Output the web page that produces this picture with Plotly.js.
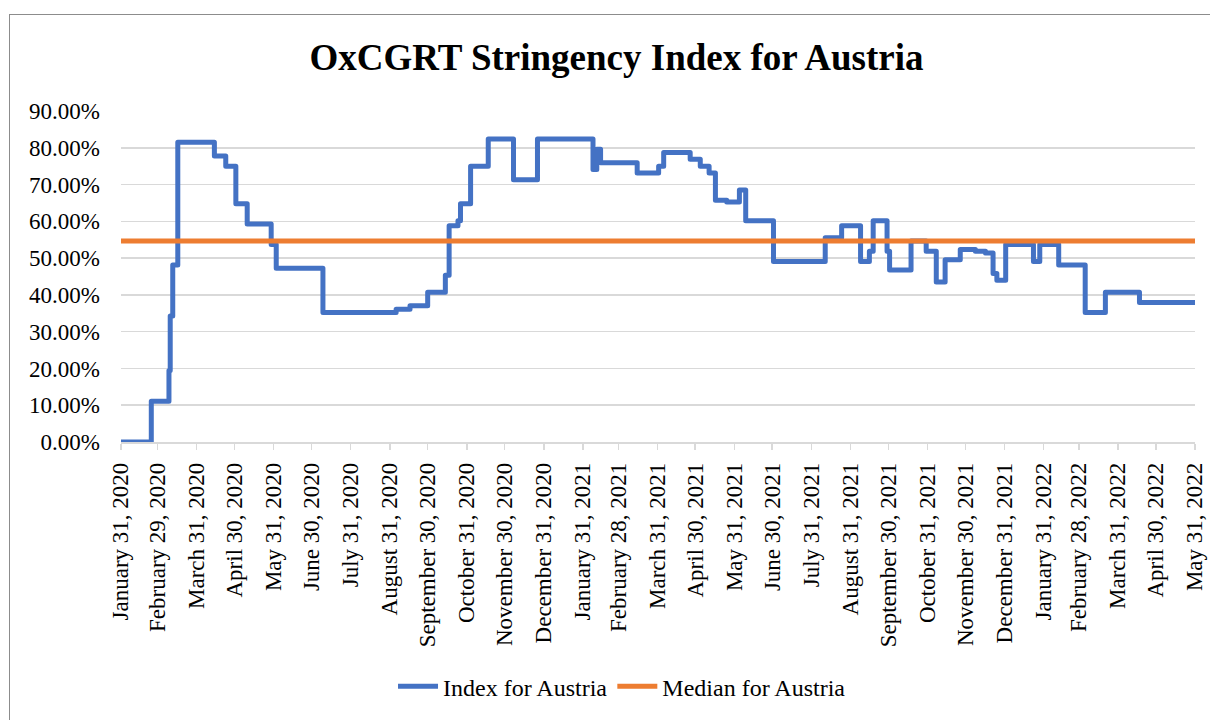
<!DOCTYPE html>
<html>
<head>
<meta charset="utf-8">
<script src="https://cdn.plot.ly/plotly-3.0.1.min.js"></script>
<style>
  html, body { margin: 0; padding: 0; background: #fff; width: 1210px; height: 720px; overflow: hidden; }
  #frame { position: absolute; left: 9px; top: 14px; width: 1210px; height: 720px; border-left: 1px solid #8c8c8c; border-top: 1px solid #8c8c8c; box-sizing: border-box; }
  #chart { position: absolute; left: 0; top: 0; width: 1201px; height: 706px; }
  .scatterlayer path.js-line { stroke-linejoin: round; stroke-linecap: round; }
</style>
</head>
<body>
<div id="frame"><div id="chart"></div></div>
<script>
const changeDates = [
  '2020-01-31','2020-02-24','2020-03-09','2020-03-10','2020-03-12','2020-03-16',
  '2020-04-14','2020-04-23','2020-05-01','2020-05-10','2020-05-29','2020-06-02',
  '2020-07-09','2020-09-05','2020-09-16','2020-09-30','2020-10-14','2020-10-17',
  '2020-10-24','2020-10-26','2020-11-03','2020-11-17','2020-12-07','2020-12-26',
  '2021-02-08','2021-02-11','2021-02-14','2021-03-15','2021-04-01','2021-04-05',
  '2021-04-26','2021-05-04','2021-05-11','2021-05-16','2021-05-25','2021-06-04',
  '2021-06-09','2021-07-01','2021-08-11','2021-08-24','2021-09-08','2021-09-15',
  '2021-09-18','2021-09-29','2021-10-01','2021-10-18','2021-10-30','2021-11-07',
  '2021-11-14','2021-11-26','2021-12-08','2021-12-16','2021-12-22','2021-12-25',
  '2022-01-01','2022-01-23','2022-01-28','2022-02-12','2022-03-05','2022-03-21',
  '2022-04-17','2022-05-31'
];
const indexValues = [
  0.0000,0.1111,0.1944,0.3426,0.4815,0.8148,
  0.7778,0.7500,0.6481,0.5926,0.5370,0.4722,
  0.3519,0.3611,0.3704,0.4074,0.4537,0.5880,
  0.6019,0.6481,0.7500,0.8241,0.7130,0.8241,
  0.7407,0.7963,0.7593,0.7315,0.7500,0.7870,
  0.7685,0.7500,0.7315,0.6574,0.6528,0.6852,
  0.6019,0.4907,0.5556,0.5880,0.4907,0.5185,
  0.6019,0.5185,0.4676,0.5463,0.5185,0.4352,
  0.4954,0.5231,0.5185,0.5139,0.4583,0.4398,
  0.5370,0.4907,0.5370,0.4815,0.3519,0.4074,
  0.3796,0.3796
];
const medianDates = ['2020-01-31','2022-05-31'];
const medianValues = [0.5463, 0.5463];

const tickDates = [
  '2020-01-31','2020-02-29','2020-03-31','2020-04-30','2020-05-31','2020-06-30',
  '2020-07-31','2020-08-31','2020-09-30','2020-10-31','2020-11-30','2020-12-31',
  '2021-01-31','2021-02-28','2021-03-31','2021-04-30','2021-05-31','2021-06-30',
  '2021-07-31','2021-08-31','2021-09-30','2021-10-31','2021-11-30','2021-12-31',
  '2022-01-31','2022-02-28','2022-03-31','2022-04-30','2022-05-31'
];
const tickLabels = [
  'January 31, 2020','February 29, 2020','March 31, 2020','April 30, 2020','May 31, 2020','June 30, 2020',
  'July 31, 2020','August 31, 2020','September 30, 2020','October 31, 2020','November 30, 2020','December 31, 2020',
  'January 31, 2021','February 28, 2021','March 31, 2021','April 30, 2021','May 31, 2021','June 30, 2021',
  'July 31, 2021','August 31, 2021','September 30, 2021','October 31, 2021','November 30, 2021','December 31, 2021',
  'January 31, 2022','February 28, 2022','March 31, 2022','April 30, 2022','May 31, 2022'
];
const yTicks = [0,0.1,0.2,0.3,0.4,0.5,0.6,0.7,0.8,0.9];

const FONT = 'Liberation Serif';

const traces = [
  {
    x: changeDates, y: indexValues, type: 'scatter', mode: 'lines',
    name: 'Index for Austria',
    line: { color: '#4472C4', width: 5, shape: 'hv' },
    hoverinfo: 'skip'
  },
  {
    x: medianDates, y: medianValues, type: 'scatter', mode: 'lines',
    name: 'Median for Austria',
    line: { color: '#ED7D31', width: 5 },
    hoverinfo: 'skip'
  }
];

const layout = {
  width: 1201, height: 706,
  margin: { l: 111, r: 16, t: 96, b: 277 },
  paper_bgcolor: '#ffffff', plot_bgcolor: '#ffffff',
  font: { family: FONT, color: '#000000', size: 23 },
  title: {
    text: '<b>OxCGRT Stringency Index for Austria</b>',
    font: { family: FONT, size: 37, color: '#000000' },
    x: 0.505, xanchor: 'center', xref: 'container',
    y: 1 - 42/706, yanchor: 'middle', yref: 'container'
  },
  xaxis: {
    type: 'date',
    range: ['2020-01-31', '2022-05-31'],
    tickmode: 'array', tickvals: tickDates, ticktext: tickLabels,
    tickangle: -90,
    ticks: 'outside', ticklen: 6, tickwidth: 1.5, tickcolor: '#d9d9d9',
    showgrid: false, zeroline: false,
    showline: true, linecolor: '#d9d9d9', linewidth: 1.5,
    tickfont: { family: FONT, size: 23, color: '#000000' },
    ticklabelstandoff: 4,
    fixedrange: true
  },
  yaxis: {
    range: [0, 0.9],
    tickmode: 'array', tickvals: yTicks,
    tickformat: '.2%',
    showgrid: true, gridcolor: '#d9d9d9', gridwidth: 1.5,
    zeroline: false, showline: false, ticks: '',
    tickfont: { family: FONT, size: 23, color: '#000000' },
    ticklabelstandoff: 20,
    fixedrange: true
  },
  showlegend: true,
  legend: {
    orientation: 'h',
    x: 0.4665, xanchor: 'center',
    y: -0.739, yanchor: 'middle',
    font: { family: FONT, size: 24, color: '#000000' },
    itemwidth: 40,
    traceorder: 'normal'
  }
};

Plotly.newPlot('chart', traces, layout, { displayModeBar: false, staticPlot: true });
</script>
</body>
</html>
